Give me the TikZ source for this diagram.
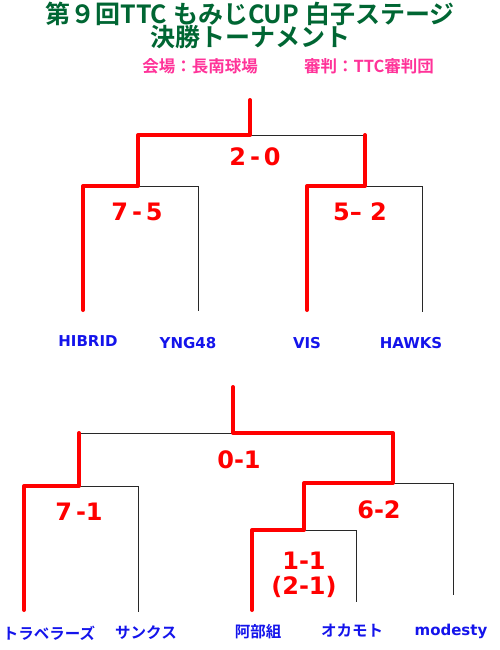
\documentclass[tikz,border=0pt]{standalone}
\usepackage{fontspec}
\setmainfont{DejaVu Sans}
\newfontfamily\cjk{Noto Sans CJK JP}[BoldFont={Noto Sans CJK JP Bold}]
\definecolor{titlegreen}{RGB}{0,102,51}
\definecolor{subpink}{RGB}{255,51,153}
\definecolor{teamblue}{RGB}{20,20,235}
\definecolor{winred}{RGB}{255,0,0}
\definecolor{thinline}{RGB}{40,40,40}
\tikzset{
  title/.style={font=\cjk\bfseries\fontsize{25}{27}\selectfont, text=titlegreen, inner sep=0pt},
  sub/.style={font=\cjk\bfseries\fontsize{16.5}{18}\selectfont, text=subpink, inner sep=0pt},
  team/.style={font=\bfseries\fontsize{15}{17}\selectfont, text=teamblue, inner sep=0pt},
  teamjp/.style={font=\cjk\bfseries\fontsize{15.5}{17}\selectfont, text=teamblue, inner sep=0pt},
  score/.style={font=\bfseries\fontsize{24}{25}\selectfont, text=winred, inner sep=0pt, align=center},
  loser/.style={draw=thinline, line width=1pt},
  winner/.style={draw=winred, line width=4pt, line cap=round, line join=round}
}
\begin{document}
\begin{tikzpicture}[x=1pt,y=-1pt]
\useasboundingbox (0,0) rectangle (500,650);
% titles
\node[title] (t1) at (250,14) {第９回TTC もみじCUP 白子ステージ};
\node[title] (t2) at (250,37) {決勝トーナメント};
\node[sub] (s1) at (200,66) {会場：長南球場};
\node[sub] (s2) at (369,66) {審判：TTC審判団};

% ---------- top bracket ----------
\coordinate (T1) at (250,100);
\coordinate (J1) at (250,135);
\coordinate (L1) at (138,135);
\coordinate (R1) at (365,135);
\coordinate (L1b) at (138,186);
\coordinate (R1b) at (365,186);
\coordinate (a) at (83,186);
\coordinate (abot) at (83,310);
\coordinate (b) at (198,186);
\coordinate (bbot) at (198,311);
\coordinate (c) at (307,186);
\coordinate (cbot) at (307,310);
\coordinate (d) at (422,186);
\coordinate (dbot) at (422,312);

\draw[loser] (J1) -- (R1);
\draw[loser] (L1b) -- (b) -- (bbot);
\draw[loser] (R1b) -- (d) -- (dbot);
\draw[winner] (T1) -- (J1) -- (L1) -- (L1b) -- (a) -- (abot);
\draw[winner] (R1) -- (R1b) -- (c) -- (cbot);

\node[score] (sc1) at (255,157) {2\,-\,0};
\node[score] (sc2) at (137,212) {7\,-\,5};
\node[score] (sc3) at (360,212) {5– 2};

\node[team] (hibrid) at (88,341) {HIBRID};
\node[team] (yng) at (188,343) {YNG48};
\node[team] (vis) at (307,343) {VIS};
\node[team] (hawks) at (411,343) {HAWKS};

% ---------- bottom bracket ----------
\coordinate (T2) at (233,387);
\coordinate (J2) at (233,433);
\coordinate (L2) at (79,433);
\coordinate (R2) at (393,433);
\coordinate (L2b) at (79,486);
\coordinate (R2b) at (393,483);
\coordinate (e) at (24,486);
\coordinate (ebot) at (24,610);
\coordinate (f) at (138,486);
\coordinate (fbot) at (138,612);
\coordinate (g) at (304,483);
\coordinate (g2) at (304,530);
\coordinate (h) at (453,483);
\coordinate (hbot) at (453,595);
\coordinate (i) at (252,530);
\coordinate (ibot) at (252,610);
\coordinate (k) at (356,530);
\coordinate (kbot) at (356,602);

\draw[loser] (L2) -- (J2);
\draw[loser] (L2b) -- (f) -- (fbot);
\draw[loser] (R2b) -- (h) -- (hbot);
\draw[loser] (g2) -- (k) -- (kbot);
\draw[winner] (T2) -- (J2) -- (R2) -- (R2b) -- (g) -- (g2) -- (i) -- (ibot);
\draw[winner] (L2) -- (L2b) -- (e) -- (ebot);

\node[score] (sc4) at (239,460) {0-1};
\node[score] (sc5) at (79,512) {7\,-1};
\node[score] (sc6) at (379,510) {6-2};
\node[score] (sc7) at (304,575) {1-1\\(2-1)};

\node[teamjp] (trav) at (49,633) {トラベラーズ};
\node[teamjp] (thanks) at (146,633) {サンクス};
\node[teamjp] (abe) at (258,632) {阿部組};
\node[teamjp] (oka) at (352,631) {オカモト};
\node[team] (mod) at (451,631) {modesty};
\end{tikzpicture}
\end{document}
